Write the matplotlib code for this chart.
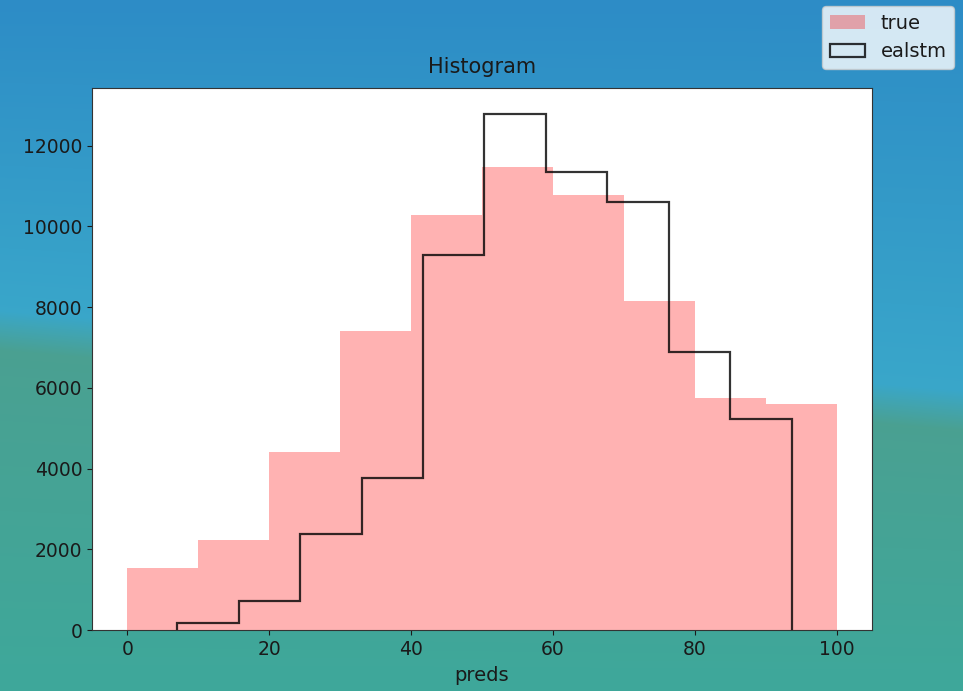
import numpy as np
import matplotlib
matplotlib.use("Agg")
import matplotlib.pyplot as plt

# histogram counts
true_edges = [0, 10, 20, 30, 40, 50, 60, 70, 80, 90, 100]
true_counts = [1530, 2230, 4400, 7420, 10290, 11480, 10790, 8160, 5740, 5590]

ealstm_edges = [7.0, 15.67, 24.34, 33.01, 41.68, 50.35, 59.02, 67.69, 76.36, 85.03, 93.7]
ealstm_counts = [170, 720, 2370, 3760, 9280, 12790, 11360, 10610, 6880, 5220]

W, H = 963, 691
fig = plt.figure(figsize=(W / 100, H / 100), dpi=100)

# wallpaper-like background behind the transparent figure
yy, xx = np.mgrid[0:H, 0:W]
split = 330 + 80 * xx / W
top = np.array([45, 140, 198]) / 255
mid = np.array([58, 168, 202]) / 255
low = np.array([75, 160, 145]) / 255
bot = np.array([62, 168, 155]) / 255
t1 = np.clip(yy / split, 0, 1)[..., None]
upper = top + (mid - top) * t1
t2 = np.clip((yy - split) / (H - split), 0, 1)[..., None]
lower = low + (bot - low) * t2
blend = np.clip((yy - split + 20) / 40, 0, 1)[..., None]
bg = upper * (1 - blend) + lower * blend
ax_bg = fig.add_axes([0, 0, 1, 1], zorder=-10)
ax_bg.imshow(bg, aspect="auto")
ax_bg.axis("off")

ax = fig.add_axes([92 / W, 1 - 630 / H, 780 / W, 542 / H])
ax.set_facecolor("white")

true_mid = [(a + b) / 2 for a, b in zip(true_edges[:-1], true_edges[1:])]
ealstm_mid = [(a + b) / 2 for a, b in zip(ealstm_edges[:-1], ealstm_edges[1:])]

ax.hist(true_mid, bins=true_edges, weights=true_counts, color="red", alpha=0.3, label="true")
ax.hist(ealstm_mid, bins=ealstm_edges, weights=ealstm_counts, histtype="step",
        color="black", alpha=0.8, linewidth=1.6, label="ealstm")

ax.set_title("Histogram", fontsize=15, color="#1a1a1a", pad=11)
ax.set_xlabel("preds", fontsize=14, color="#1a1a1a", labelpad=5)
ax.tick_params(labelsize=13.5, colors="#1a1a1a")
for s in ax.spines.values():
    s.set_color("#333333")

leg = fig.legend(loc="upper right", fontsize=14, bbox_to_anchor=(0.997, 1.0),
                 framealpha=0.8, borderaxespad=0.3, handlelength=1.8)
for text in leg.get_texts():
    text.set_color("#1a1a1a")

fig.savefig("out.png", dpi=100)
